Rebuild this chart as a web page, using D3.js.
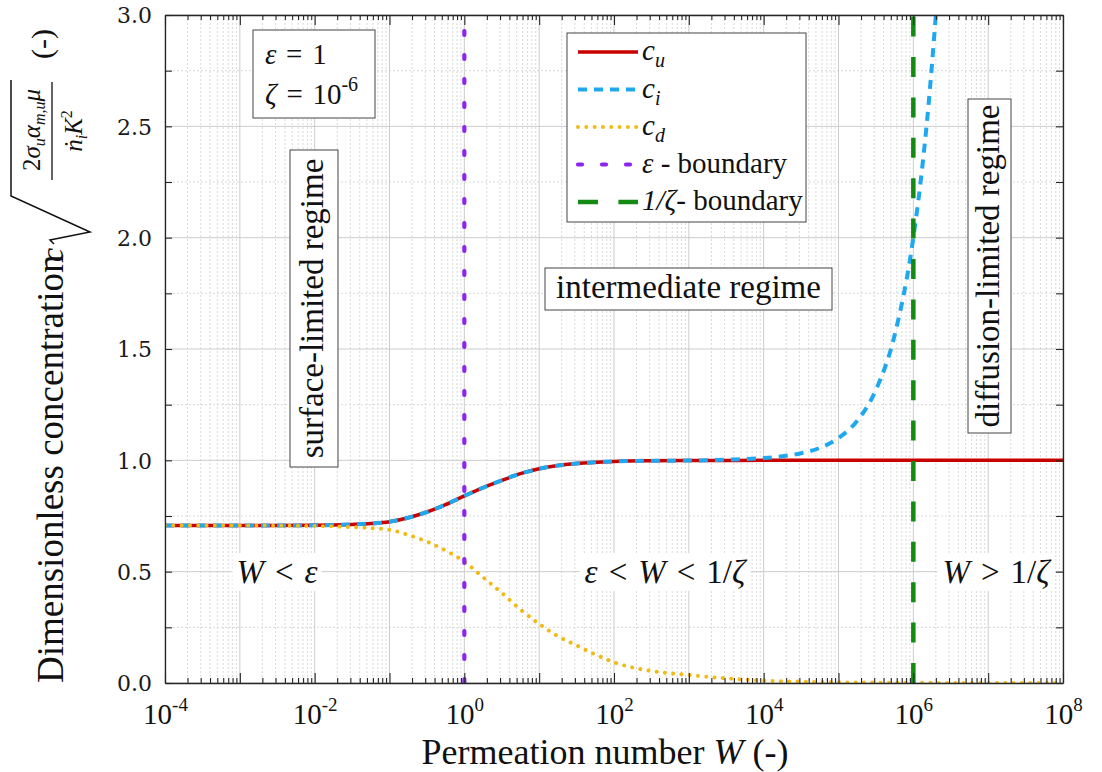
<!DOCTYPE html>
<html><head><meta charset="utf-8">
<script src="https://cdn.jsdelivr.net/npm/d3@7"></script>
<style>
body{margin:0;background:#fff}
svg{display:block}
</style>
</head><body>
<svg id="chart" width="1102" height="772"></svg>
<script>
// ---------- data ----------
const W_u = [1e-4,1e-3,1e-2,0.0316,0.0562,0.1,0.178,0.316,0.562,1,1.78,3.16,5.62,10,17.8,31.6,100,316,1e3,1e4,1e5,1e6,1e7,1e8];
const c_u = [0.707,0.707,0.708,0.712,0.716,0.724,0.742,0.768,0.801,0.840,0.877,0.910,0.940,0.962,0.977,0.986,0.995,0.998,0.999,1.0,1.0,1.0,1.0,1.0];

const W_i = [1e-4,1e-3,1e-2,0.0316,0.0562,0.1,0.178,0.316,0.562,1,1.78,3.16,5.62,10,17.8,31.6,100,316,1e3,3160,1e4,17800,31600,56200,1e5,178000,316000,562000,1e6,1.26e6,1.58e6,2e6];
const c_i = [0.707,0.707,0.708,0.712,0.716,0.724,0.742,0.768,0.801,0.840,0.877,0.910,0.940,0.962,0.977,0.986,0.995,0.998,0.999,1.003,1.010,1.018,1.032,1.056,1.10,1.178,1.316,1.562,2.0,2.26,2.58,3.0];

const W_d = [1e-4,1e-3,1e-2,0.0316,0.1,0.178,0.316,0.562,1,1.78,3.16,5.62,10,17.8,31.6,56.2,100,316,1e3,3160,1e4,31600,1e5,1e6,1e7,1e8];
const c_d = [0.707,0.707,0.705,0.700,0.688,0.665,0.635,0.595,0.545,0.475,0.405,0.330,0.265,0.210,0.169,0.128,0.093,0.054,0.036,0.021,0.011,0.006,0.003,0.001,0.0,0.0];

const W_eps = [1,1];      const c_eps = [0,3];
const W_zeta = [1e6,1e6]; const c_zeta = [0,3];

const xTickExps = [-4,-2,0,2,4,6,8];
const yTickVals = [0,0.5,1,1.5,2,2.5,3];
const yTickLabels = ["0.0","0.5","1.0","1.5","2.0","2.5","3.0"];
const legendNames = ["u","i","d","eps","zeta"];

// ---------- setup ----------
const FONT = '"Liberation Serif", "Times New Roman", serif';
const SP = "\u2004"; // slightly wider math-like space
const svg = d3.select("#chart");
const L=165, R=1063, T=15, B=683;
const x = d3.scaleLog().domain([1e-4,1e8]).range([L,R]);
const y = d3.scaleLinear().domain([0,3]).range([B,T]);
const axisColor = "#262626";

const decades = d3.range(-4,9).map(e=>Math.pow(10,e));
const minorX = [];
d3.range(-4,8).forEach(e=>{ for(let k=2;k<=9;k++) minorX.push(k*Math.pow(10,e)); });
const majorY = d3.range(0,3.01,0.5);
const minorY = d3.range(0.25,3,0.5);

// ---------- grid ----------
const grid = svg.append("g");
grid.selectAll(".mx").data(minorX).join("line")
  .attr("x1",d=>x(d)).attr("x2",d=>x(d)).attr("y1",T).attr("y2",B)
  .attr("stroke","#dadada").attr("stroke-width",1).attr("stroke-dasharray","2,2");
grid.selectAll(".my").data(minorY).join("line")
  .attr("x1",L).attr("x2",R).attr("y1",d=>y(d)).attr("y2",d=>y(d))
  .attr("stroke","#dadada").attr("stroke-width",1).attr("stroke-dasharray","2,2");
grid.selectAll(".Mx").data(decades).join("line")
  .attr("x1",d=>x(d)).attr("x2",d=>x(d)).attr("y1",T).attr("y2",B)
  .attr("stroke","#cccccc").attr("stroke-width",1);
grid.selectAll(".My").data(majorY).join("line")
  .attr("x1",L).attr("x2",R).attr("y1",d=>y(d)).attr("y2",d=>y(d))
  .attr("stroke","#cccccc").attr("stroke-width",1);

// ---------- text helpers ----------
function txt(sel){ return sel.append("text").style("font-family",FONT).attr("fill","#111"); }
function addParts(t, parts){
  parts.forEach(p=>{
    const s = t.append("tspan").text(p.t);
    if(p.i) s.style("font-style","italic");
    if(p.fs) s.style("font-size",p.fs+"px");
    if(p.dy!==undefined) s.attr("dy",p.dy);
  });
}
function boxLabel(cx, cy, rot, size, parts, w, h, border, dy){
  const g = svg.append("g").attr("transform",`translate(${cx},${cy}) rotate(${rot})`);
  const rect = g.append("rect");
  const t = txt(g).attr("text-anchor","middle").attr("dy",(dy||0.3)+"em").style("font-size",size+"px");
  addParts(t, parts);
  const bb = t.node().getBBox();
  const ww = w || bb.width+8, hh = h || bb.height+2;
  rect.attr("x",-ww/2).attr("y",-hh/2).attr("width",ww).attr("height",hh)
    .attr("fill","#fff").attr("stroke",border?"#444":"none").attr("stroke-width",1);
  return g;
}

// ---------- regime labels ----------
boxLabel(314,308.5,-90,33,[{t:"surface-limited regime"}],317,48,true,0.28);
boxLabel(688.5,289,0,33,[{t:"intermediate regime"}],287,42,true,0.28);
boxLabel(989.5,266,-90,33,[{t:"diffusion-limited regime"}],334,43,true,0.3);

boxLabel(277,572,0,33,[{t:"W",i:true},{t:SP+"<"+SP},{t:"ε",i:true}],null,null,false,0.33);
boxLabel(665,572,0,33,[{t:"ε",i:true},{t:SP+"<"+SP},{t:"W",i:true},{t:SP+"<"+SP+"1/"},{t:"ζ",i:true}],null,null,false,0.33);
boxLabel(996,572,0,33,[{t:"W",i:true},{t:SP+">"+SP+"1/"},{t:"ζ",i:true}],null,null,false,0.33);

// parameter box
svg.append("rect").attr("x",253).attr("y",30).attr("width",122).attr("height",88)
  .attr("fill","#fff").attr("stroke","#444").attr("stroke-width",1);
(function(){
  const t1 = txt(svg).attr("x",265).attr("y",64).style("font-size","29px");
  addParts(t1,[{t:"ε",i:true},{t:SP+"="+SP+"1"}]);
  const t2 = txt(svg).attr("x",265).attr("y",104).style("font-size","29px");
  addParts(t2,[{t:"ζ",i:true},{t:SP+"="+SP+"10"},{t:"-6",fs:20,dy:-13}]);
})();

// ---------- curves ----------
const clip = svg.append("clipPath").attr("id","clip").append("rect")
  .attr("x",L).attr("y",T).attr("width",R-L).attr("height",B-T);
const plot = svg.append("g").attr("clip-path","url(#clip)");
const line = d3.line().x(d=>x(d[0])).y(d=>y(d[1])).curve(d3.curveMonotoneX);
const lineStraight = d3.line().x(d=>x(d[0])).y(d=>y(d[1]));

const styles = {
  u:{color:"#c80000",w:3.5,dash:null,cap:"butt"},
  i:{color:"#1ea8f0",w:4,dash:"9,7",cap:"butt"},
  d:{color:"#f2ba14",w:4,dash:"0.01,8.3",cap:"round"},
  eps:{color:"#8e24f0",w:4.2,dash:"4,20",cap:"round"},
  zeta:{color:"#138a13",w:4.5,dash:"20,20.4",cap:"butt"}
};
function drawPath(sel, d, s){
  sel.append("path").attr("d",d).attr("fill","none").attr("stroke",s.color)
    .attr("stroke-width",s.w).attr("stroke-linecap",s.cap)
    .attr("stroke-dasharray",s.dash);
}
drawPath(plot, line(d3.zip(W_u,c_u)), styles.u);
drawPath(plot, line(d3.zip(W_i,c_i)), styles.i);
drawPath(plot, line(d3.zip(W_d,c_d)), styles.d);
drawPath(plot, lineStraight(d3.zip(W_eps,c_eps)), styles.eps);
drawPath(plot, lineStraight(d3.zip(W_zeta,c_zeta)), styles.zeta);

// ---------- axes ----------
function styleAxis(g){
  g.selectAll("path.domain").attr("stroke",axisColor).attr("stroke-width",1.3);
  g.selectAll(".tick line").attr("stroke",axisColor).attr("stroke-width",1.1);
}
const axB = svg.append("g").attr("transform",`translate(0,${B})`)
  .call(d3.axisBottom(x).tickValues(decades).tickSizeInner(-10).tickSizeOuter(0).tickFormat(""));
styleAxis(axB);
const axBm = svg.append("g").attr("transform",`translate(0,${B})`)
  .call(d3.axisBottom(x).tickValues(minorX).tickSizeInner(-5).tickSizeOuter(0).tickFormat(""));
styleAxis(axBm); axBm.select(".domain").remove();
const axT = svg.append("g").attr("transform",`translate(0,${T})`)
  .call(d3.axisTop(x).tickValues(decades).tickSizeInner(-10).tickSizeOuter(0).tickFormat(""));
styleAxis(axT);
const axTm = svg.append("g").attr("transform",`translate(0,${T})`)
  .call(d3.axisTop(x).tickValues(minorX).tickSizeInner(-5).tickSizeOuter(0).tickFormat(""));
styleAxis(axTm); axTm.select(".domain").remove();

const yAll = d3.range(0,3.01,0.25);
const axL = svg.append("g").attr("transform",`translate(${L},0)`)
  .call(d3.axisLeft(y).tickValues(yAll).tickSizeInner(-7).tickSizeOuter(0).tickFormat(""));
styleAxis(axL);
const axR = svg.append("g").attr("transform",`translate(${R},0)`)
  .call(d3.axisRight(y).tickValues(yAll).tickSizeInner(-7).tickSizeOuter(0).tickFormat(""));
styleAxis(axR);

// tick labels via axes without lines
const axBl = svg.append("g").attr("transform",`translate(0,${B})`)
  .call(d3.axisBottom(x).tickValues(xTickExps.map(e=>Math.pow(10,e))).tickSize(0).tickPadding(0).tickFormat(""));
axBl.select(".domain").remove();
axBl.selectAll(".tick").each(function(d,i){
  const t = txt(d3.select(this)).attr("y",41).attr("text-anchor","middle").style("font-size","29px");
  addParts(t,[{t:"10"},{t:String(xTickExps[i]),fs:19,dy:-13}]);
});
const axLl = svg.append("g").attr("transform",`translate(${L},0)`)
  .call(d3.axisLeft(y).tickValues(yTickVals).tickSize(0).tickPadding(13).tickFormat((d,i)=>yTickLabels[i]));
axLl.select(".domain").remove();
axLl.selectAll(".tick text").style("font-family",'"DejaVu Serif", serif').style("font-size","22px")
  .attr("fill","#1a1a1a").attr("dy","0.36em");

// ---------- axis titles ----------
(function(){
  const t = txt(svg).attr("x",605).attr("y",764).attr("text-anchor","middle").style("font-size","36px");
  addParts(t,[{t:"Permeation number "},{t:"W",i:true},{t:" (-)"}]);
})();
(function(){
  const g = svg.append("g").attr("transform","rotate(-90)");
  txt(g).attr("x",-683).attr("y",63).style("font-size","37px").text("Dimensionless concentration");
  txt(g).attr("x",-262).attr("y",63).style("font-size","32px").style("font-style","italic").text("c");
  g.append("path").attr("d","M-244,54 L-240,50 L-232,90 L-196,11 L-80,11")
    .attr("fill","none").attr("stroke","#111").attr("stroke-width",1.5);
  const num = txt(g).attr("x",-130).attr("y",40).attr("text-anchor","middle").style("font-size","25px");
  addParts(num,[{t:"2"},{t:"σ",i:true},{t:"u",i:true,fs:16,dy:5},{t:"α",i:true,fs:25,dy:-5},{t:"m,u",i:true,fs:16,dy:5},{t:"μ",i:true,fs:25,dy:-5}]);
  g.append("line").attr("x1",-180).attr("x2",-82).attr("y1",52).attr("y2",52).attr("stroke","#111").attr("stroke-width",1.3);
  const den = txt(g).attr("x",-131).attr("y",82).attr("text-anchor","middle").style("font-size","25px");
  addParts(den,[{t:"ṅ",i:true},{t:"i",i:true,fs:16,dy:5},{t:"K",i:true,fs:25,dy:-5},{t:"2",fs:16,dy:-10}]);
  txt(g).attr("x",-44).attr("y",52).attr("text-anchor","middle").style("font-size","30px").text("(-)");
})();

// ---------- legend ----------
(function(){
  const lg = svg.append("g");
  lg.append("rect").attr("x",567).attr("y",33).attr("width",239).attr("height",189)
    .attr("fill","#fff").attr("stroke","#444").attr("stroke-width",1);
  const rows = [
    [{t:"c",i:true},{t:"u",i:true,fs:20,dy:7}],
    [{t:"c",i:true},{t:"i",i:true,fs:20,dy:7}],
    [{t:"c",i:true},{t:"d",i:true,fs:20,dy:7}],
    [{t:"ε",i:true},{t:" - boundary"}],
    [{t:"1/ζ",i:true},{t:"- boundary"}]
  ];
  legendNames.forEach((k,i)=>{
    const yy = 52 + i*37.5;
    const s = styles[k];
    lg.append("line").attr("x1",578).attr("x2",638).attr("y1",yy).attr("y2",yy)
      .attr("stroke",s.color).attr("stroke-width",s.w).attr("stroke-linecap",s.cap)
      .attr("stroke-dasharray",s.dash);
    const t = txt(lg).attr("x",642).attr("y",yy+8).style("font-size","29px");
    addParts(t, rows[i]);
  });
})();
</script>
</body></html>
